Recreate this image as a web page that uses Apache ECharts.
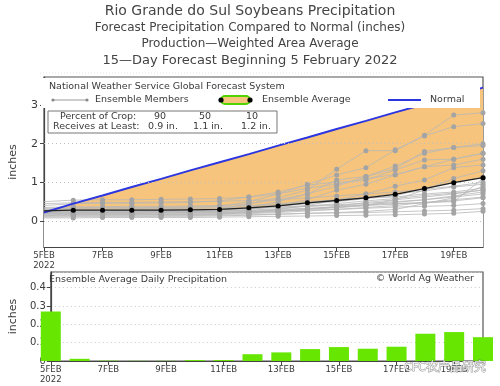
<!DOCTYPE html>
<html><head><meta charset="utf-8">
<script src="https://cdn.jsdelivr.net/npm/echarts@6/dist/echarts.min.js"></script>
<style>html,body{margin:0;padding:0;background:#fff}#c{width:500px;height:386px}</style>
</head><body><div id="c"></div>
<script>
// ---- data ----
const days = [0,1,2,3,4,5,6,7,8,9,10,11,12,13,14,15];
const tickLabels = ['5FEB\n2022','7FEB','9FEB','11FEB','13FEB','15FEB','17FEB','19FEB'];
const normalCum = [0.22,0.45,0.66,0.88,1.09,1.31,1.52,1.73,1.95,2.16,2.38,2.59,2.81,3.02,3.23,3.45];
const ensembleAvg = [0.26,0.28,0.28,0.28,0.28,0.29,0.30,0.34,0.39,0.47,0.53,0.60,0.69,0.84,0.99,1.12];
const dailyAvg = [0.27,0.012,0.002,0.001,0.001,0.005,0.005,0.037,0.047,0.065,0.076,0.067,0.078,0.149,0.158,0.13];
const m1 = [0.25,0.27,0.28,0.28,0.28,0.29,0.30,0.45,0.60,0.80,1.34,1.82,1.82,2.22,2.74,2.80];
const m2 = [0.30,0.33,0.34,0.34,0.35,0.36,0.38,0.50,0.70,0.95,1.19,1.38,1.84,2.20,2.44,2.52];
const m3 = [0.22,0.24,0.24,0.25,0.25,0.26,0.28,0.35,0.50,0.70,1.06,1.15,1.42,1.75,1.90,2.00];
const m4 = [0.40,0.45,0.46,0.46,0.47,0.48,0.52,0.62,0.75,0.93,1.00,1.05,1.32,1.58,1.60,1.75];
const m5 = [0.20,0.22,0.22,0.22,0.23,0.24,0.26,0.30,0.40,0.55,0.80,0.95,1.19,1.40,1.45,1.60];
const m6 = [0.50,0.54,0.55,0.55,0.56,0.57,0.58,0.62,0.70,0.85,0.95,1.10,1.20,1.40,1.60,1.75];
const m7 = [0.15,0.16,0.16,0.16,0.17,0.17,0.18,0.22,0.30,0.40,0.55,0.70,0.90,1.06,1.38,1.45];
const m8 = [0.25,0.26,0.27,0.27,0.27,0.28,0.29,0.32,0.38,0.45,0.50,0.58,0.65,0.85,1.00,1.13];
const m9 = [0.18,0.19,0.19,0.19,0.20,0.20,0.21,0.23,0.26,0.30,0.34,0.40,0.55,0.80,1.10,1.30];
const m10 = [0.10,0.11,0.11,0.11,0.12,0.12,0.13,0.15,0.17,0.20,0.22,0.25,0.30,0.45,0.60,0.90];
const m11 = [0.28,0.29,0.29,0.30,0.30,0.30,0.31,0.33,0.36,0.40,0.42,0.46,0.50,0.55,0.65,0.75];
const m12 = [0.33,0.34,0.35,0.35,0.35,0.36,0.37,0.40,0.45,0.50,0.55,0.60,0.62,0.70,0.75,0.85];
const m13 = [0.12,0.13,0.13,0.13,0.14,0.14,0.15,0.16,0.18,0.20,0.21,0.22,0.24,0.26,0.28,0.32];
const m14 = [0.20,0.21,0.21,0.21,0.22,0.22,0.22,0.24,0.26,0.28,0.30,0.33,0.36,0.38,0.40,0.45];
const m15 = [0.23,0.24,0.24,0.24,0.25,0.25,0.25,0.27,0.30,0.33,0.36,0.40,0.44,0.47,0.52,0.60];
const m16 = [0.08,0.08,0.09,0.09,0.09,0.09,0.10,0.11,0.12,0.13,0.14,0.15,0.16,0.18,0.20,0.25];
const m17 = [0.45,0.47,0.48,0.48,0.49,0.50,0.51,0.53,0.55,0.60,0.65,0.70,0.75,0.82,0.90,1.00];
const m18 = [0.16,0.17,0.17,0.17,0.18,0.18,0.19,0.21,0.24,0.30,0.38,0.48,0.55,0.62,0.70,0.80];
const m19 = [0.27,0.28,0.28,0.28,0.29,0.29,0.30,0.32,0.35,0.38,0.40,0.42,0.45,0.48,0.50,1.10];
const m20 = [0.35,0.37,0.37,0.38,0.38,0.39,0.40,0.45,0.55,0.70,0.90,1.15,1.35,1.80,1.90,1.95];
const m21 = [0.14,0.15,0.15,0.15,0.16,0.16,0.17,0.19,0.22,0.26,0.30,0.35,0.40,0.48,0.55,0.62];
const m22 = [0.22,0.23,0.23,0.23,0.24,0.24,0.25,0.28,0.32,0.38,0.45,0.52,0.58,0.66,0.72,0.80];
const m23 = [0.30,0.31,0.31,0.32,0.32,0.33,0.34,0.37,0.42,0.48,0.55,0.62,0.70,0.78,0.88,0.95];
const m24 = [0.19,0.20,0.20,0.20,0.21,0.21,0.22,0.25,0.28,0.32,0.36,0.42,0.48,0.55,0.62,0.70];
const members = [m1,m2,m3,m4,m5,m6,m7,m8,m9,m10,m11,m12,m13,m14,m15,m16,m17,m18,m19,m20,m21,m22,m23,m24];
const topTicks = [0,1,2,3];

// ---- chart ----
const FONT = 'DejaVu Sans';
const TXT = '#3a3a3a';
const chart = echarts.init(document.getElementById('c'), null, {renderer:'canvas'});
const pairs = arr => arr.map((v,i)=>[days[i], v]);
const xLabelFmt = v => { const k = Math.round(v/2); return (v%2===0 && tickLabels[k]) ? tickLabels[k] : ''; };

const series = [];
// orange deficit fill: normal filled down to axis min, then white fill below the ensemble average
series.push({type:'line', xAxisIndex:0, yAxisIndex:0, data:pairs(normalCum), symbol:'none', lineStyle:{opacity:0}, areaStyle:{color:'#f6c47c', opacity:1, origin:'start'}, silent:true, z:1});
series.push({type:'line', xAxisIndex:0, yAxisIndex:0, data:pairs(ensembleAvg), symbol:'none', lineStyle:{opacity:0}, areaStyle:{color:'#ffffff', opacity:1, origin:'start'}, silent:true, z:1});
// dotted gridlines for top panel
series.push({type:'line', xAxisIndex:0, yAxisIndex:0, data:[], silent:true, z:2,
  markLine:{silent:true, symbol:'none', label:{show:false}, animation:false, lineStyle:{color:'#c0c0c0', type:[1,3], width:1},
    data: topTicks.map(t=>({yAxis:t}))}});
members.forEach(m=>{
  series.push({type:'line', xAxisIndex:0, yAxisIndex:0,
    data:m.map((v,i)=> i===0 ? {value:[days[i],v], symbol:'none'} : {value:[days[i],v]}),
    symbol:'circle', symbolSize:5, showAllSymbol:true,
    itemStyle:{color:'#a4a4a4'}, lineStyle:{color:'#b8b8b8', width:0.8}, silent:true, z:3});
});
series.push({type:'line', xAxisIndex:0, yAxisIndex:0, data:pairs(normalCum), symbol:'none', lineStyle:{color:'#2b35e0', width:2}, z:4});
series.push({type:'line', xAxisIndex:0, yAxisIndex:0,
  data:ensembleAvg.map((v,i)=> i===0 ? {value:[days[i],v], symbol:'none'} : {value:[days[i],v]}),
  symbol:'circle', symbolSize:5, showAllSymbol:true, itemStyle:{color:'#000'}, lineStyle:{color:'#222', width:1.3}, z:5});
series.push({type:'bar', xAxisIndex:1, yAxisIndex:1, data:pairs(dailyAvg), barWidth:20, itemStyle:{color:'#66e600'}, z:3});

const xAx = (gi) => ({type:'value', gridIndex:gi, min:0, max:15, interval:2,
  axisLine:{show:true, onZero:false, lineStyle:{color:'#444', width:1.2}},
  axisTick:{show:true, length:4, lineStyle:{color:'#444'}},
  axisLabel:{formatter:xLabelFmt, showMaxLabel:false, fontFamily:'DejaVu Sans Condensed', fontSize:9.5, color:TXT, margin:4, lineHeight:10},
  splitLine:{show:false}});

const option = {
  animation:false,
  backgroundColor:'#fff',
  grid:[
    {left:40, top:77, width:443, height:170, show:true, borderColor:'#555', borderWidth:1.2, backgroundColor:'#fff'},
    {left:40, top:272, width:443, height:89, show:true, borderColor:'#555', borderWidth:1.2, backgroundColor:'#fff'}
  ],
  xAxis:[xAx(0), xAx(1)],
  yAxis:[
    {type:'value', gridIndex:0, min:-0.672, max:3.724,
     name:'inches', nameLocation:'middle', nameGap:25, nameTextStyle:{fontFamily:FONT, fontSize:11, color:TXT},
     axisLine:{show:true, lineStyle:{color:'#444', width:1.2}},
     axisTick:{show:true, length:4, customValues:topTicks, lineStyle:{color:'#444'}},
     axisLabel:{customValues:topTicks, fontFamily:FONT, fontSize:11, color:TXT, margin:6},
     splitLine:{show:false}},
    {type:'value', gridIndex:1, min:0, max:0.486, interval:0.1,
     name:'inches', nameLocation:'middle', nameGap:28, nameTextStyle:{fontFamily:FONT, fontSize:11, color:TXT},
     axisLine:{show:true, lineStyle:{color:'#444', width:1.2}},
     axisTick:{show:true, length:4, lineStyle:{color:'#444'}},
     axisLabel:{showMaxLabel:false, fontFamily:FONT, fontSize:10, color:TXT, margin:5, formatter:v=>v===0?'0':v.toFixed(1)},
     splitLine:{show:true, lineStyle:{color:'#c8c8c8', type:[1,3], width:1}}}
  ],
  series: series,
  graphic:[
    {type:'text', left:'center', top:4, style:{text:'Rio Grande do Sul Soybeans Precipitation', font:'14px "DejaVu Sans"', fill:'#444'}},
    {type:'text', left:'center', top:22, style:{text:'Forecast Precipitation Compared to Normal (inches)', font:'12px "DejaVu Sans"', fill:'#444'}},
    {type:'text', left:'center', top:38, style:{text:'Production\u2014Weighted Area Average', font:'12px "DejaVu Sans"', fill:'#444'}},
    {type:'text', left:'center', top:54, style:{text:'15\u2014Day Forecast Beginning 5 February 2022', font:'13px "DejaVu Sans"', fill:'#444'}},
    {type:'line', shape:{x1:40,y1:73,x2:483,y2:73}, style:{stroke:'#e4e4e4', lineWidth:1, lineDash:[1,2]}},
    // legend panel (white, over plot)
    {type:'rect', shape:{x:41, y:78, width:439, height:30}, style:{fill:'#fff'}, z:10},
    {type:'text', x:49, y:87, style:{text:'National Weather Service Global Forecast System', font:'9.5px "DejaVu Sans"', fill:TXT, textVerticalAlign:'middle'}, z:11},
    {type:'line', shape:{x1:53,y1:100,x2:87,y2:100}, style:{stroke:'#999', lineWidth:1}, z:11},
    {type:'circle', shape:{cx:53, cy:100, r:1.6}, style:{fill:'#888'}, z:11},
    {type:'circle', shape:{cx:87, cy:100, r:1.6}, style:{fill:'#888'}, z:11},
    {type:'text', x:95, y:100, style:{text:'Ensemble Members', font:'9.5px "DejaVu Sans"', fill:TXT, textVerticalAlign:'middle'}, z:11},
    {type:'rect', shape:{x:221, y:96, width:29, height:8, r:4}, style:{fill:'#f6c47c', stroke:'#4fd400', lineWidth:2}, z:11},
    {type:'circle', shape:{cx:221, cy:100, r:2.6}, style:{fill:'#000'}, z:12},
    {type:'circle', shape:{cx:250, cy:100, r:2.6}, style:{fill:'#000'}, z:12},
    {type:'text', x:262, y:100, style:{text:'Ensemble Average', font:'9.5px "DejaVu Sans"', fill:TXT, textVerticalAlign:'middle'}, z:11},
    {type:'line', shape:{x1:388,y1:100,x2:421,y2:100}, style:{stroke:'#2b35e0', lineWidth:2}, z:11},
    {type:'text', x:430, y:100, style:{text:'Normal', font:'9.5px "DejaVu Sans"', fill:TXT, textVerticalAlign:'middle'}, z:11},
    // percent of crop box
    {type:'rect', shape:{x:48, y:111, width:229, height:22}, style:{fill:'#fff', stroke:'#777', lineWidth:1}, z:11},
    {type:'text', x:60, y:117, style:{text:'Percent of Crop:', font:'9.5px "DejaVu Sans"', fill:TXT, textVerticalAlign:'middle'}, z:12},
    {type:'text', x:160, y:117, style:{text:'90', font:'9.5px "DejaVu Sans"', fill:TXT, textAlign:'center', textVerticalAlign:'middle'}, z:12},
    {type:'text', x:205, y:117, style:{text:'50', font:'9.5px "DejaVu Sans"', fill:TXT, textAlign:'center', textVerticalAlign:'middle'}, z:12},
    {type:'text', x:252, y:117, style:{text:'10', font:'9.5px "DejaVu Sans"', fill:TXT, textAlign:'center', textVerticalAlign:'middle'}, z:12},
    {type:'text', x:53, y:127, style:{text:'Receives at Least:', font:'9.5px "DejaVu Sans"', fill:TXT, textVerticalAlign:'middle'}, z:12},
    {type:'text', x:163, y:127, style:{text:'0.9 in.', font:'9.5px "DejaVu Sans"', fill:TXT, textAlign:'center', textVerticalAlign:'middle'}, z:12},
    {type:'text', x:208, y:127, style:{text:'1.1 in.', font:'9.5px "DejaVu Sans"', fill:TXT, textAlign:'center', textVerticalAlign:'middle'}, z:12},
    {type:'text', x:256, y:127, style:{text:'1.2 in.', font:'9.5px "DejaVu Sans"', fill:TXT, textAlign:'center', textVerticalAlign:'middle'}, z:12},
    // bottom panel texts
    {type:'text', x:49, y:280, style:{text:'Ensemble Average Daily Precipitation', font:'9.5px "DejaVu Sans"', fill:TXT, textVerticalAlign:'middle'}, z:11},
    {type:'text', x:474, y:279, style:{text:'\u00a9 World Ag Weather', font:'9.5px "DejaVu Sans"', fill:TXT, textAlign:'right', textVerticalAlign:'middle'}, z:11},
    {type:'text', x:486, y:366, style:{text:'CFC农产品研究', font:'12px "Noto Sans CJK SC"', fill:'rgba(255,255,255,0.85)', stroke:'rgba(110,110,110,0.7)', lineWidth:1, textAlign:'right', textVerticalAlign:'middle'}, z:20}
  ]
};
chart.setOption(option);
</script></body></html>
